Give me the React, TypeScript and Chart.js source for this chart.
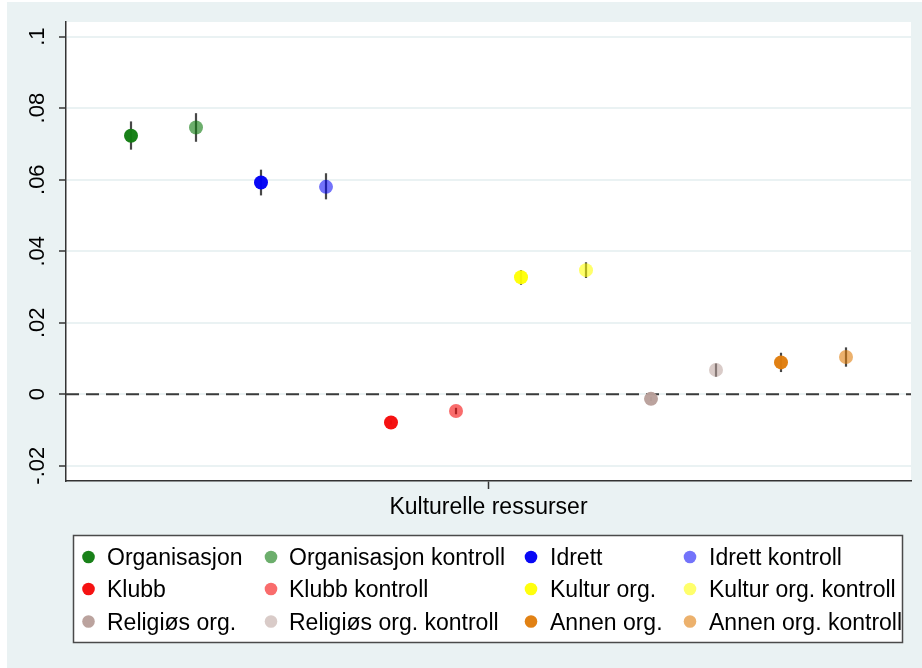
import React, { useEffect, useRef } from "react";
import { Chart, registerables } from "chart.js";

Chart.register(...registerables);

// ---- data ----
const categories = [
  "Organisasjon",
  "Organisasjon kontroll",
  "Idrett",
  "Idrett kontroll",
  "Klubb",
  "Klubb kontroll",
  "Kultur org.",
  "Kultur org. kontroll",
  "Religiøs org.",
  "Religiøs org. kontroll",
  "Annen org.",
  "Annen org. kontroll",
];
const xIndex = [1, 2, 3, 4, 5, 6, 7, 8, 9, 10, 11, 12];
const estimates = [0.0723, 0.0746, 0.0592, 0.058, -0.0079, -0.0047, 0.0327, 0.0347, -0.0013, 0.0068, 0.0089, 0.0104];
const lowerCI = [0.0684, 0.0706, 0.0556, 0.0545, -0.0085, -0.0056, 0.0306, 0.0325, -0.0019, 0.0049, 0.0062, 0.0077];
const upperCI = [0.0763, 0.0786, 0.0628, 0.0618, -0.0073, -0.0038, 0.0347, 0.0369, -0.0007, 0.0086, 0.0116, 0.0131];
const colors = [
  "rgba(18,125,18,0.97)",
  "rgba(18,125,18,0.62)",
  "rgba(0,0,245,0.97)",
  "rgba(0,0,245,0.55)",
  "rgba(245,10,10,0.97)",
  "rgba(245,10,10,0.6)",
  "rgba(255,255,0,0.95)",
  "rgba(255,255,0,0.58)",
  "rgba(185,160,155,0.97)",
  "rgba(185,160,155,0.55)",
  "rgba(224,125,12,0.97)",
  "rgba(224,125,12,0.6)",
];
const yTickValues = [-0.02, 0, 0.02, 0.04, 0.06, 0.08, 0.1];
const yTickLabels = ["-.02", "0", ".02", ".04", ".06", ".08", ".1"];
const xTickValues = [6.5];
const xTickLabels = ["Kulturelle ressurser"];
const legendColumns = 4;

const FONT = '"Liberation Sans", Arial, Helvetica, sans-serif';
const BG = "#eaf2f3";

export default function App() {
  const canvasRef = useRef<HTMLCanvasElement | null>(null);

  useEffect(() => {
    const canvas = canvasRef.current;
    if (!canvas) return;

    const backgroundPlugin = {
      id: "bgPlugin",
      beforeDraw(chart: any) {
        const { ctx, width, height, chartArea } = chart;
        ctx.save();
        ctx.fillStyle = "#ffffff";
        ctx.fillRect(0, 0, width, height);
        ctx.fillStyle = BG;
        ctx.fillRect(7, 2, width - 7, height - 2);
        ctx.fillStyle = "#ffffff";
        ctx.fillRect(chartArea.left, chartArea.top, chartArea.right - chartArea.left, chartArea.bottom - chartArea.top);
        ctx.restore();
      },
    };

    const errorBarPlugin = {
      id: "errorBars",
      beforeDatasetsDraw(chart: any) {
        const { ctx, chartArea, scales } = chart;
        const xs = scales.x;
        const ys = scales.y;
        ctx.save();
        // zero reference line
        ctx.strokeStyle = "#3a3a3a";
        ctx.lineWidth = 2;
        ctx.setLineDash([13, 7]);
        const y0 = ys.getPixelForValue(0);
        ctx.beginPath();
        ctx.moveTo(chartArea.left, y0);
        ctx.lineTo(chartArea.right, y0);
        ctx.stroke();
        ctx.setLineDash([]);
        // confidence intervals
        ctx.strokeStyle = "#484848";
        ctx.lineWidth = 2.2;
        for (let i = 0; i < estimates.length; i++) {
          const px = Math.round(xs.getPixelForValue(xIndex[i]));
          ctx.beginPath();
          ctx.moveTo(px, ys.getPixelForValue(lowerCI[i]));
          ctx.lineTo(px, ys.getPixelForValue(upperCI[i]));
          ctx.stroke();
        }
        ctx.restore();
      },
    };

    const legendPlugin = {
      id: "gridLegend",
      afterDraw(chart: any) {
        const { ctx } = chart;
        const boxX = 73.5;
        const boxY = 535.5;
        const boxW = 829;
        const boxH = 107;
        const colMarkerX = [88.5, 271, 531, 690];
        const colTextX = [107, 289, 550, 709];
        const rowY = [557, 589, 621.5];
        ctx.save();
        ctx.fillStyle = "#ffffff";
        ctx.fillRect(boxX, boxY, boxW, boxH);
        ctx.strokeStyle = "#4a4a4a";
        ctx.lineWidth = 1.5;
        ctx.strokeRect(boxX, boxY, boxW, boxH);
        ctx.font = `23px ${FONT}`;
        ctx.textAlign = "left";
        ctx.textBaseline = "alphabetic";
        for (let i = 0; i < categories.length; i++) {
          const col = i % legendColumns;
          const row = Math.floor(i / legendColumns);
          ctx.fillStyle = colors[i];
          ctx.beginPath();
          ctx.arc(colMarkerX[col], rowY[row], 6.3, 0, Math.PI * 2);
          ctx.fill();
          ctx.fillStyle = "#000000";
          ctx.fillText(categories[i], colTextX[col], rowY[row] + 8);
        }
        ctx.restore();
      },
    };

    const chart = new Chart(canvas, {
      type: "scatter",
      data: {
        datasets: [
          {
            label: "Kulturelle ressurser",
            data: estimates.map((v, i) => ({ x: xIndex[i], y: v })),
            pointBackgroundColor: colors,
            pointBorderWidth: 0,
            pointBorderColor: "rgba(0,0,0,0)",
            pointRadius: 7,
            pointHoverRadius: 7,
            showLine: false,
          },
        ],
      },
      options: {
        responsive: false,
        animation: false,
        events: [],
        layout: { padding: { top: 22, right: 11, bottom: 137, left: 0 } },
        plugins: {
          legend: { display: false },
          tooltip: { enabled: false },
          title: { display: false },
        },
        scales: {
          x: {
            type: "linear",
            min: 0,
            max: 13,
            afterBuildTicks(axis: any) {
              axis.ticks = xTickValues.map((v) => ({ value: v }));
            },
            afterFit(axis: any) {
              axis.height = 50;
            },
            ticks: {
              callback: (_v: any, i: number) => xTickLabels[i],
              font: { family: FONT, size: 23 },
              color: "#000000",
              padding: 5,
              maxRotation: 0,
              minRotation: 0,
            },
            grid: {
              drawOnChartArea: false,
              drawTicks: true,
              tickLength: 8,
              tickColor: "#333333",
              tickWidth: 1.5,
            },
            border: { display: true, color: "#333333", width: 1.5 },
          },
          y: {
            type: "linear",
            min: -0.02427,
            max: 0.1041,
            afterBuildTicks(axis: any) {
              axis.ticks = yTickValues.map((v) => ({ value: v }));
            },
            afterFit(axis: any) {
              axis.width = 66;
            },
            ticks: {
              callback: (_v: any, i: number) => yTickLabels[i],
              font: { family: FONT, size: 22 },
              color: "#000000",
              minRotation: 90,
              maxRotation: 90,
              crossAlign: "center",
              padding: 2,
            },
            grid: {
              color: BG,
              lineWidth: 2,
              drawTicks: true,
              tickLength: 7,
              tickColor: "#333333",
              tickWidth: 1.5,
            },
            border: { display: true, color: "#333333", width: 1.5 },
          },
        },
      },
      plugins: [backgroundPlugin, errorBarPlugin, legendPlugin],
    } as any);

    return () => {
      chart.destroy();
    };
  }, []);

  return (
    <div style={{ position: "absolute", left: 0, top: 0, width: 922, height: 668 }}>
      <canvas ref={canvasRef} width={922} height={668} style={{ display: "block", width: 922, height: 668 }} />
    </div>
  );
}
